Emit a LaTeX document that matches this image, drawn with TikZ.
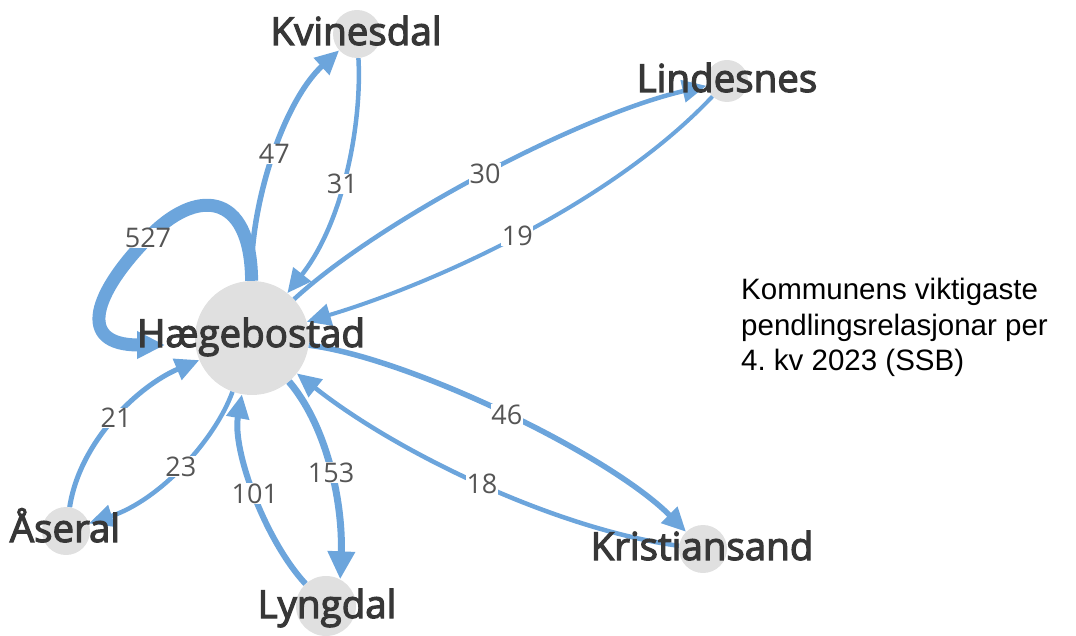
\documentclass[tikz,border=0pt]{standalone}
\usepackage{fontspec}
\setmainfont{Open Sans}
\newfontfamily\nodefont{Open Sans}[FakeBold=3]
\newfontfamily\notefont{Liberation Sans}
\usetikzlibrary{arrows.meta}
\definecolor{edgeblue}{RGB}{108,165,220}
\definecolor{nodegrey}{RGB}{224,224,224}
\definecolor{nodetext}{RGB}{55,55,55}
\definecolor{labelgrey}{RGB}{85,85,85}
\begin{document}
\begin{tikzpicture}[x=1pt,y=-1pt,
  circ/.style={circle, fill=nodegrey, inner sep=0pt, minimum size=#1},
  lbl/.style={font=\nodefont\fontsize{38.5}{42}\selectfont, text=nodetext, anchor=base, inner sep=0pt},
  elabel/.style={font=\fontsize{27}{30}\selectfont, text=labelgrey, fill=white, inner sep=0.5pt},
  conn/.style={draw=edgeblue, line width=#1, -{Triangle[length=24pt,width=22pt]}},
  bigtip/.style={-{Triangle[length=28pt,width=26pt]}}
]
\useasboundingbox (0,0) rectangle (1076,636);

% circles
\node[circ=114pt] (hb) at (252,338) {};
\node[circ=48pt]  (kv) at (357,34) {};
\node[circ=42pt]  (ld) at (727,81) {};
\node[circ=48pt]  (kr) at (703,549) {};
\node[circ=48pt]  (as) at (66,531) {};
\node[circ=60pt]  (ly) at (326,606) {};
\coordinate (loopend) at (165,345);

% edges
\draw[conn=5.5pt] (hb) .. controls (250,200) and (285,100) .. (kv) node[elabel,pos=0.5]{47};
\draw[conn=4.5pt] (kv) .. controls (362,120) and (345,220) .. (hb) node[elabel,pos=0.55]{31};
\draw[conn=4.5pt] (hb) .. controls (380,220) and (580,115) .. (ld) node[elabel,pos=0.5]{30};
\draw[conn=4pt] (ld) .. controls (610,205) and (430,285) .. (hb) node[elabel,pos=0.5]{19};
\draw[conn=13pt,bigtip] (hb) .. controls (251,190) and (195,188) .. (148,238) node[elabel]{527}
   .. controls (95,292) and (75,345) .. (loopend);
\draw[conn=5pt] (as) .. controls (80,440) and (140,385) .. (hb) node[elabel,pos=0.5]{21};
\draw[conn=4.5pt] (hb) .. controls (215,440) and (160,500) .. (as) node[elabel,pos=0.5]{23};
\draw[conn=6pt] (ly) .. controls (265,540) and (232,450) .. (hb) node[elabel,pos=0.5]{101};
\draw[conn=7pt,bigtip] (hb) .. controls (330,430) and (343,510) .. (ly.62) node[elabel,pos=0.5]{153};
\draw[conn=5.5pt] (hb) .. controls (410,358) and (610,455) .. (kr) node[elabel,pos=0.5]{46};
\draw[conn=4.5pt] (kr) .. controls (560,530) and (400,455) .. (hb) node[elabel,pos=0.5]{18};

% node texts
\node[lbl] (hbL) at (251,347) {Hægebostad};
\node[lbl] (kvL) at (356,45) {Kvinesdal};
\node[lbl] (ldL) at (727,92) {Lindesnes};
\node[lbl] (krL) at (702,560) {Kristiansand};
\node[lbl] (asL) at (65,542) {Åseral};
\node[lbl] (lyL) at (327,618) {Lyngdal};

% note
\node[font=\notefont\fontsize{29.5}{35.5}\selectfont, align=left, anchor=north west, inner sep=0pt] (note) at (741,278)
  {Kommunens viktigaste\\pendlingsrelasjonar per\\4.\ kv 2023 (SSB)};
\end{tikzpicture}
\end{document}
